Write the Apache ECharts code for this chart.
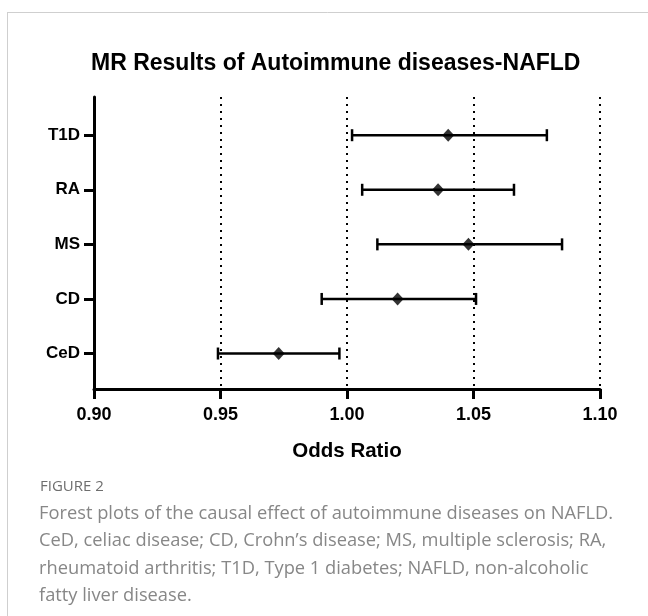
<!DOCTYPE html>
<html>
<head>
<meta charset="utf-8">
<script src="https://cdn.jsdelivr.net/npm/echarts@6/dist/echarts.min.js"></script>
<style>html,body{margin:0;padding:0;background:#fff;}#c{width:648px;height:616px;}</style>
</head>
<body>
<div id="c"></div>
<script>
// Categories, bottom to top (y positions 1..5)
const categories = ['CeD', 'CD', 'MS', 'RA', 'T1D'];
const oddsRatio = [0.973, 1.020, 1.048, 1.036, 1.040];
const lowerCI   = [0.949, 0.990, 1.012, 1.006, 1.002];
const upperCI   = [0.997, 1.051, 1.085, 1.066, 1.079];
const xTicks = [0.90, 0.95, 1.00, 1.05, 1.10];

const chartTitle = 'MR Results of Autoimmune diseases-NAFLD';
const xTitle = 'Odds Ratio';
const captionHead = 'FIGURE 2';
const captionLines = [
  'Forest plots of the causal effect of autoimmune diseases on NAFLD.',
  'CeD, celiac disease; CD, Crohn\u2019s disease; MS, multiple sclerosis; RA,',
  'rheumatoid arthritis; T1D, Type 1 diabetes; NAFLD, non-alcoholic',
  'fatty liver disease.'
];

const catPos = categories.map((c, i) => i + 1);
const errData = categories.map((c, i) => [lowerCI[i], upperCI[i], catPos[i]]);
const ptData = categories.map((c, i) => [oddsRatio[i], catPos[i]]);

const chart = echarts.init(document.getElementById('c'));
const FONT = '"Liberation Sans", Arial, sans-serif';

chart.setOption({
  backgroundColor: '#fff',
  animation: false,
  title: {
    text: chartTitle,
    left: 86, top: 47,
    textStyle: {fontFamily: FONT, fontWeight: 'bold', fontSize: 23, color: '#000'}
  },
  grid: {left: 94, right: 48, top: 97, bottom: 227},
  xAxis: {
    type: 'value', min: 0.90, max: 1.10, interval: 0.05,
    name: xTitle, nameLocation: 'middle', nameGap: 52,
    nameTextStyle: {fontFamily: FONT, fontWeight: 'bold', fontSize: 20.5, color: '#000'},
    axisLine: {show: true, lineStyle: {color: '#000', width: 3}},
    axisTick: {show: true, length: 10, lineStyle: {color: '#000', width: 3}},
    axisLabel: {
      margin: 17, fontFamily: FONT, fontWeight: 'bold', fontSize: 18, color: '#000',
      formatter: v => v.toFixed(2)
    },
    splitLine: {show: true, lineStyle: {color: '#000', width: 2, type: [2, 5]}}
  },
  yAxis: {
    type: 'value', min: 0.35, max: 5.7,
    axisLine: {show: true, lineStyle: {color: '#000', width: 3}},
    axisTick: {show: true, length: 10, customValues: catPos, lineStyle: {color: '#000', width: 3}},
    axisLabel: {
      margin: 14, fontFamily: FONT, fontWeight: 'bold', fontSize: 17, color: '#000',
      customValues: catPos,
      formatter: v => categories[Math.round(v) - 1] || ''
    },
    splitLine: {show: false}
  },
  series: [
    {
      type: 'custom',
      data: errData,
      encode: {x: [0, 1], y: 2},
      renderItem: function (params, api) {
        const y = api.value(2);
        const p1 = api.coord([api.value(0), y]);
        const p2 = api.coord([api.value(1), y]);
        const h = 6;
        const st = {stroke: '#000', lineWidth: 2.5};
        return {
          type: 'group',
          children: [
            {type: 'line', shape: {x1: p1[0], y1: p1[1], x2: p2[0], y2: p2[1]}, style: st},
            {type: 'line', shape: {x1: p1[0], y1: p1[1] - h, x2: p1[0], y2: p1[1] + h}, style: st},
            {type: 'line', shape: {x1: p2[0], y1: p2[1] - h, x2: p2[0], y2: p2[1] + h}, style: st}
          ]
        };
      },
      z: 3
    },
    {
      type: 'scatter',
      data: ptData,
      symbol: 'diamond',
      symbolSize: [12, 13],
      itemStyle: {color: '#000'},
      z: 4
    }
  ],
  graphic: [
    {type: 'line', shape: {x1: 7.5, y1: 12, x2: 7.5, y2: 616}, style: {stroke: '#cfcfcf', lineWidth: 1}, silent: true},
    {type: 'line', shape: {x1: 7.5, y1: 12.5, x2: 648, y2: 12.5}, style: {stroke: '#cfcfcf', lineWidth: 1}, silent: true},
    {type: 'text', left: 40, top: 479, style: {text: captionHead, font: '500 15px "Open Sans", sans-serif', fill: '#6e6e6e'}},
    {type: 'text', left: 39, top: 500, style: {
      text: captionLines.join('\n'), font: '18.3px "Open Sans", sans-serif', fill: '#878787', lineHeight: 27.5
    }}
  ]
});
</script>
</body>
</html>
